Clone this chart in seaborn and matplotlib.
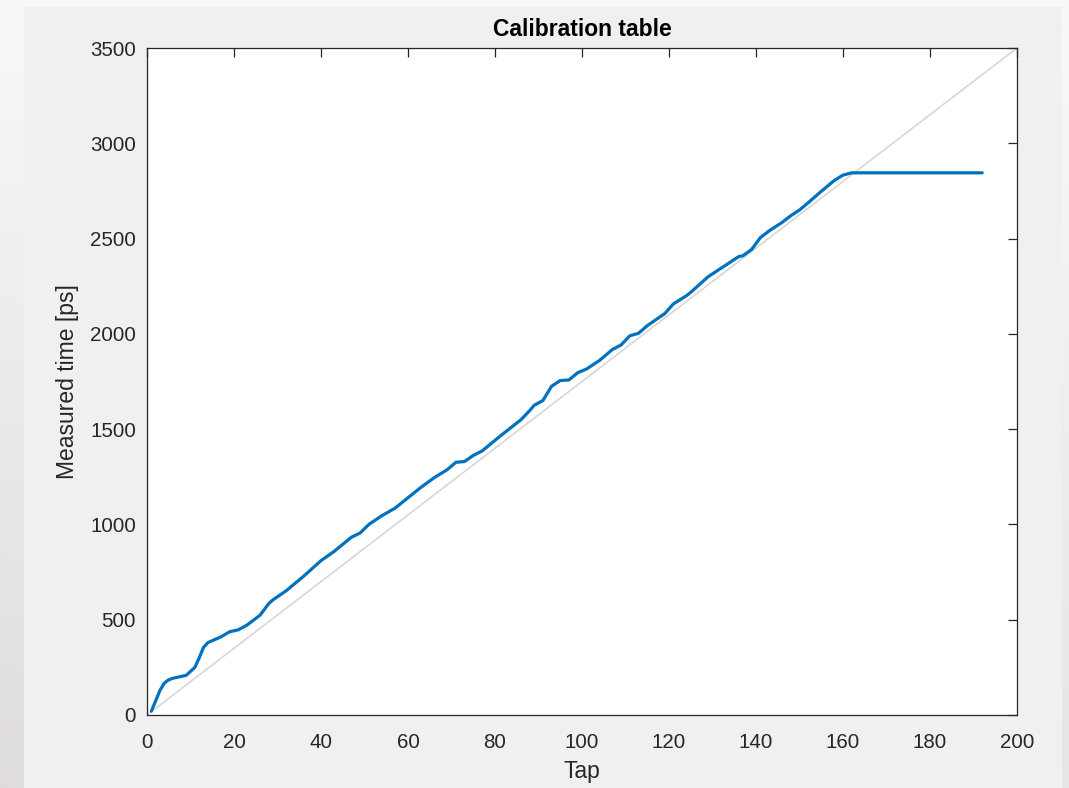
import numpy as np
import pandas as pd
import seaborn as sns
import matplotlib.pyplot as plt
from matplotlib.patches import Rectangle

# calibration curve
tap = [1, 2, 3, 4, 5, 6, 8, 9, 11, 12, 13, 14, 16, 17, 19, 21, 23, 26, 28, 29,
       32, 36, 40, 43, 47, 49, 51, 54, 57, 60, 63, 66, 69, 71, 73, 75, 77, 81,
       86, 88, 89, 91, 93, 95, 97, 99, 101, 104, 107, 109, 111, 113, 115, 119,
       121, 124, 125, 129, 131, 133, 136, 137, 139, 141, 143, 146, 148, 150,
       152, 155, 158, 160, 162, 192]
measured = [20, 75, 130, 168, 185, 193, 203, 208, 250, 300, 355, 380, 400, 410,
            437, 447, 472, 524, 585, 605, 652, 728, 810, 858, 933, 955, 1000,
            1046, 1085, 1140, 1195, 1245, 1287, 1326, 1330, 1362, 1385, 1460,
            1550, 1598, 1625, 1650, 1725, 1755, 1758, 1796, 1815, 1860, 1918,
            1942, 1990, 2003, 2043, 2106, 2157, 2200, 2218, 2300, 2330, 2360,
            2405, 2410, 2443, 2505, 2540, 2585, 2620, 2650, 2688, 2748, 2805,
            2833, 2845, 2845]

# ideal line, corner to corner
ideal_tap = [0, 200]
ideal_time = [0, 3500]

x_ticks = list(range(0, 201, 20))
y_ticks = list(range(0, 3501, 500))

sns.set_theme(style="white")
plt.rcParams['font.family'] = ['Liberation Sans', 'DejaVu Sans']

ink = "#262626"
fig = plt.figure(figsize=(10.69, 7.88), dpi=100)

# slide-like background with a soft gradient and the window panel
bg = fig.add_axes([0, 0, 1, 1], zorder=-10)
W, H = 1069, 788
xx, yy = np.meshgrid(np.linspace(0, 1, 200), np.linspace(0, 1, 150))
v = 0.55 * (1 - xx) * yy + 0.35 * yy * xx + 0.1 * yy
light = np.array([0.975, 0.975, 0.975])
dark = np.array([0.82, 0.80, 0.82])
img = light * (1 - v[..., None]) + dark * v[..., None]
bg.imshow(img, extent=[0, W, H, 0], aspect="auto")
bg.add_patch(Rectangle((24, 7), 1062 - 24, 788 - 7, color="#f0f0f0", lw=0))
bg.set_xlim(0, W)
bg.set_ylim(H, 0)
bg.axis("off")

ax = fig.add_axes([147 / W, 1 - 715 / H, (1017 - 147) / W, (715 - 48) / H])
ax.set_facecolor("white")

df = pd.DataFrame({"Tap": tap, "Measured": measured})
ref = pd.DataFrame({"Tap": ideal_tap, "Measured": ideal_time})
sns.lineplot(data=ref, x="Tap", y="Measured", ax=ax, color="#d4d4d4", lw=1.1)
sns.lineplot(data=df, x="Tap", y="Measured", ax=ax, color="#0072bd", lw=2.3)

ax.set_xlim(0, 200)
ax.set_ylim(0, 3500)
ax.set_xticks(x_ticks)
ax.set_yticks(y_ticks)
ax.tick_params(direction="in", length=6.5, width=0.9, color=ink, labelcolor=ink,
               labelsize=14.8, top=True, right=True, pad=8)
ax.tick_params(axis="x", pad=13)
for s in ax.spines.values():
    s.set_color(ink)
    s.set_linewidth(0.9)

ax.set_title("Calibration table", fontsize=16.5, fontweight="bold", color="black", pad=9)
ax.set_xlabel("Tap", fontsize=16.5, color=ink, labelpad=5.5)
ax.set_ylabel("Measured time [ps]", fontsize=16.5, color=ink, labelpad=8)

fig.savefig("out.png", dpi=100)
